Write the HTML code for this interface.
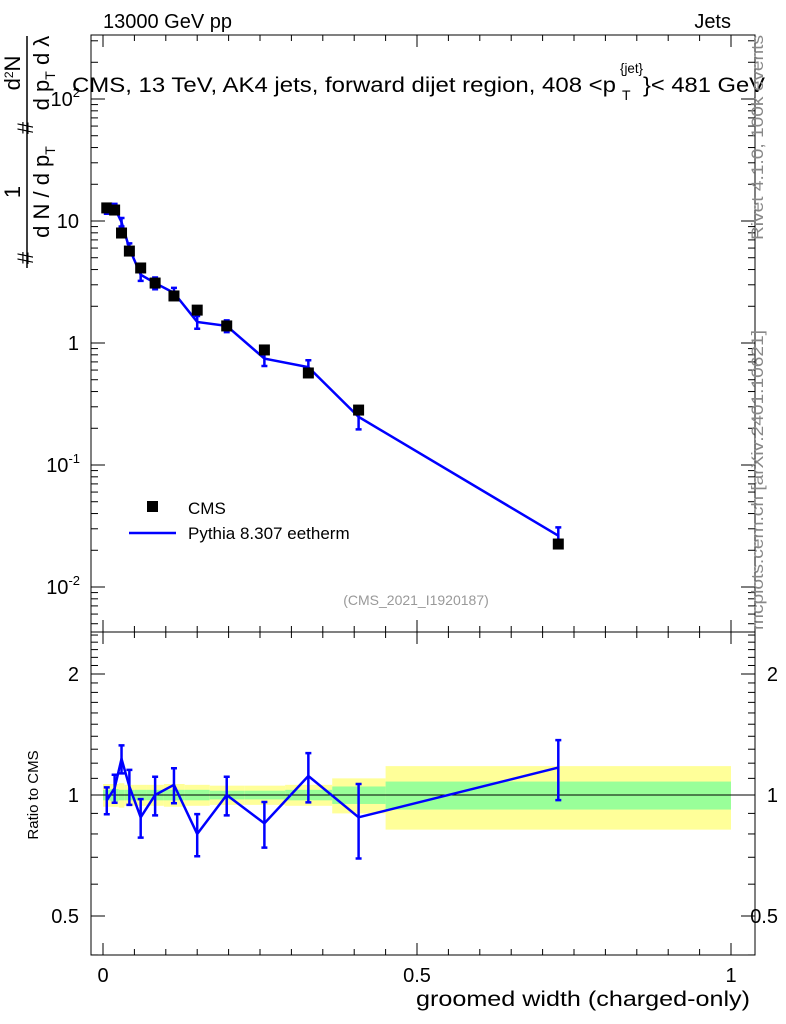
<!DOCTYPE html>
<html><head><meta charset="utf-8"><style>
body{margin:0;background:#fff}
svg{display:block;font-family:"Liberation Sans",sans-serif}
</style></head><body>
<svg id="c" width="786" height="1024" viewBox="0 0 786 1024" xmlns="http://www.w3.org/2000/svg">
<g id="bands"></g>
<g id="frames"></g>
<g id="marks"></g>
<g id="labels"></g>
</svg>
<script>
const xCenters=[0.006,0.0185,0.0295,0.042,0.06,0.083,0.113,0.15,0.197,0.257,0.327,0.407,0.725];
const binEdges=[0,0.012,0.025,0.034,0.05,0.07,0.097,0.13,0.17,0.225,0.29,0.365,0.45,1.0];
const cmsValues=[12.8,12.3,7.97,5.67,4.12,3.10,2.43,1.86,1.38,0.877,0.568,0.282,0.0225];
const mcRatio=[0.97,1.04,1.23,1.05,0.88,1.00,1.06,0.80,1.00,0.85,1.115,0.88,1.17];
const mcRelErr=[0.077,0.08,0.08,0.10,0.11,0.11,0.10,0.12,0.11,0.13,0.14,0.21,0.17];
const bandYellow=[0.065,0.065,0.07,0.06,0.06,0.06,0.065,0.06,0.055,0.055,0.06,0.10,0.18];
const bandGreen=[0.03,0.035,0.03,0.03,0.03,0.03,0.03,0.03,0.025,0.025,0.03,0.05,0.08];
const xTickLabels=["0","0.5","1"];
const xTickVals=[0,0.5,1];
const yMainTicks=[2,1,0,-1,-2];
const yRatioTicks=[2,1,0.5];
const yRatioLabels=["2","1","0.5"];

const NS="http://www.w3.org/2000/svg";
const L=91,R=755,T=35,M=632,B=955;
const X=v=>103+628*v;
const Y=v=>343-122*Math.log10(v);
const YR=v=>795-121*Math.log2(v);
function mk(parent,tag,attrs,text){const e=document.createElementNS(NS,tag);for(const k in attrs)e.setAttribute(k,attrs[k]);if(text!==undefined)e.textContent=text;document.getElementById(parent).appendChild(e);return e;}

for(let i=0;i<bandYellow.length;i++){
  const x0=X(binEdges[i]),x1=X(binEdges[i+1]);
  let e=mk('bands','rect',{x:x0,y:YR(1+bandYellow[i]),width:x1-x0,height:YR(1-bandYellow[i])-YR(1+bandYellow[i]),fill:'#ffff99'});
  
  
  e=mk('bands','rect',{x:x0,y:YR(1+bandGreen[i]),width:x1-x0,height:YR(1-bandGreen[i])-YR(1+bandGreen[i]),fill:'#99ff99'});
  
  
}
let f=mk('frames','rect',{x:L,y:T,width:R-L,height:M-T,fill:'none',stroke:'#000','stroke-width':1});

f=mk('frames','rect',{x:L,y:M,width:R-L,height:B-M,fill:'none',stroke:'#000','stroke-width':1});

f=mk('frames','line',{x1:L,x2:R,y1:YR(1),y2:YR(1),stroke:'#000','stroke-width':1});


for(let k=0;k<=20;k++){
  const v=k*0.05,x=X(v),len=(k%10==0)?12:6;
  for(const [y0,d] of [[M,-1],[T,1],[B,-1],[M,1]]){
    const t=mk('frames','line',{x1:x,x2:x,y1:y0,y2:y0+d*len,stroke:'#000'});
    
  }
}
for(let d=-3;d<=2;d++){for(let m=1;m<=9;m++){
  const v=m*Math.pow(10,d),y=Y(v);if(y<T||y>M)continue;
  const len=m==1?14:7;
  for(const [x0,s] of [[L,1],[R,-1]]){const t=mk('frames','line',{x1:x0,x2:x0+s*len,y1:y,y2:y,stroke:'#000'});
  }
}}
for(let k=4;k<=25;k++){const v=k/10;const y=YR(v);if(y<M||y>B)continue;
  const len=(k==5||k==10||k==20)?14:7;
  for(const [x0,s] of [[L,1],[R,-1]]){const t=mk('frames','line',{x1:x0,x2:x0+s*len,y1:y,y2:y,stroke:'#000'});
  }
}

let pts=xCenters.map((x,i)=>X(x)+','+Y(cmsValues[i]*mcRatio[i])).join(' ');
let pl=mk('marks','polyline',{points:pts,fill:'none',stroke:'#0000ff','stroke-width':2.5});

pts=xCenters.map((x,i)=>X(x)+','+YR(mcRatio[i])).join(' ');
pl=mk('marks','polyline',{points:pts,fill:'none',stroke:'#0000ff','stroke-width':2.5});

for(let i=0;i<xCenters.length;i++){
  const x=X(xCenters[i]),v=cmsValues[i]*mcRatio[i];
  for(const [y1,y2] of [[Y(v*(1+mcRelErr[i])),Y(v*(1-mcRelErr[i]))],[YR(mcRatio[i]*(1+mcRelErr[i])),YR(mcRatio[i]*(1-mcRelErr[i]))]]){
    const g=mk('marks','path',{d:`M${x},${y1}V${y2}M${x-3},${y1}h6M${x-3},${y2}h6`,stroke:'#0000ff','stroke-width':2.5,fill:'none'});
    
  }
  const s=mk('marks','rect',{x:X(xCenters[i])-5.5,y:Y(cmsValues[i])-5.5,width:11,height:11,fill:'#000'});
  
}

function txt(x,y,s,attrs,name){const e=mk('labels','text',Object.assign({x:x,y:y,'font-size':20},attrs||{}),s);return e;}
xTickVals.forEach((v,i)=>txt(X(v),982,xTickLabels[i],{'text-anchor':'middle'},'x-tick-label'));
txt(416,1006,'groomed width (charged-only)',{'font-size':21,textLength:334,lengthAdjust:'spacingAndGlyphs'},'x-axis-title');
yMainTicks.forEach(p=>{
  const y=Y(Math.pow(10,p))+7;
  if(p==0)txt(79,y,'1',{'text-anchor':'end'},'y-tick-label');
  else if(p==1)txt(79,y,'10',{'text-anchor':'end'},'y-tick-label');
  else{const e=txt(80,y,'',{'text-anchor':'end'},'y-tick-label');e.innerHTML='10<tspan dy="-9" font-size="13">'+p+'</tspan>';}
});
yRatioTicks.forEach((v,i)=>{txt(79,YR(v)+7,yRatioLabels[i],{'text-anchor':'end'},'ratio-tick-label');txt(778,YR(v)+7,yRatioLabels[i],{'text-anchor':'end'},'ratio-tick-label-right');});
txt(103,28,'13000 GeV pp',{},'energy-label');
txt(731,28,'Jets',{'text-anchor':'end'},'process-label');
txt(72,92,'CMS, 13 TeV, AK4 jets, forward dijet region, 408 <p',{'font-size':21,textLength:544,lengthAdjust:'spacingAndGlyphs'},'plot-title');
txt(620,73,'{jet}',{'font-size':14,textLength:23,lengthAdjust:'spacingAndGlyphs'},'plot-title-superscript');
txt(622,100,'T',{'font-size':14},'plot-title-subscript');
txt(643,92,'}< 481 GeV',{'font-size':21,textLength:122,lengthAdjust:'spacingAndGlyphs'},'plot-title-end');
txt(763,240,'Rivet 4.1.0,  100k events',{transform:'rotate(-90 763 240)','font-size':17,fill:'#888',textLength:205,lengthAdjust:'spacingAndGlyphs'},'rivet-label');
txt(763,630,'mcplots.cern.ch [arXiv:2401.10621]',{transform:'rotate(-90 763 630)','font-size':17,fill:'#888',textLength:300,lengthAdjust:'spacingAndGlyphs'},'mcplots-label');
txt(38,795,'Ratio to CMS',{transform:'rotate(-90 38 795)','font-size':15,'text-anchor':'middle'},'ratio-axis-title');
txt(416,605,'(CMS_2021_I1920187)',{'text-anchor':'middle','font-size':14,fill:'#999'},'analysis-id');
let ls=mk('labels','rect',{x:147,y:501,width:11,height:11,fill:'#000'});
txt(188,514,'CMS',{'font-size':17},'legend-cms');
ls=mk('labels','line',{x1:129,x2:176,y1:533,y2:533,stroke:'#0000ff','stroke-width':2.5});
txt(188,539,'Pythia 8.307 eetherm',{'font-size':17},'legend-pythia');
const yt=mk('labels','g',{transform:'rotate(-90)','font-size':22});

function ytx(u,v,s,fs){const e=document.createElementNS(NS,'text');e.setAttribute('x',u);e.setAttribute('y',v);e.setAttribute('font-size',fs||22);e.setAttribute('text-anchor','middle');e.innerHTML=s;yt.appendChild(e);return e;}
ytx(-258,33,'#');
ytx(-192,20,'1');
ytx(-192,49,'d N / d p<tspan dy="6" font-size="14">T</tspan>');
ytx(-128,33,'#');
ytx(-73,20,'d<tspan dy="-7" font-size="12">2</tspan><tspan dy="7">N</tspan>');
ytx(-73,49,'d p<tspan dy="6" font-size="14">T</tspan><tspan dy="-6"> d λ</tspan>');
const bar=document.createElementNS(NS,'line');bar.setAttribute('x1',-268);bar.setAttribute('x2',-36);bar.setAttribute('y1',27);bar.setAttribute('y2',27);bar.setAttribute('stroke','#000');bar.setAttribute('stroke-width',1.5);yt.appendChild(bar);
</script>
</body></html>
